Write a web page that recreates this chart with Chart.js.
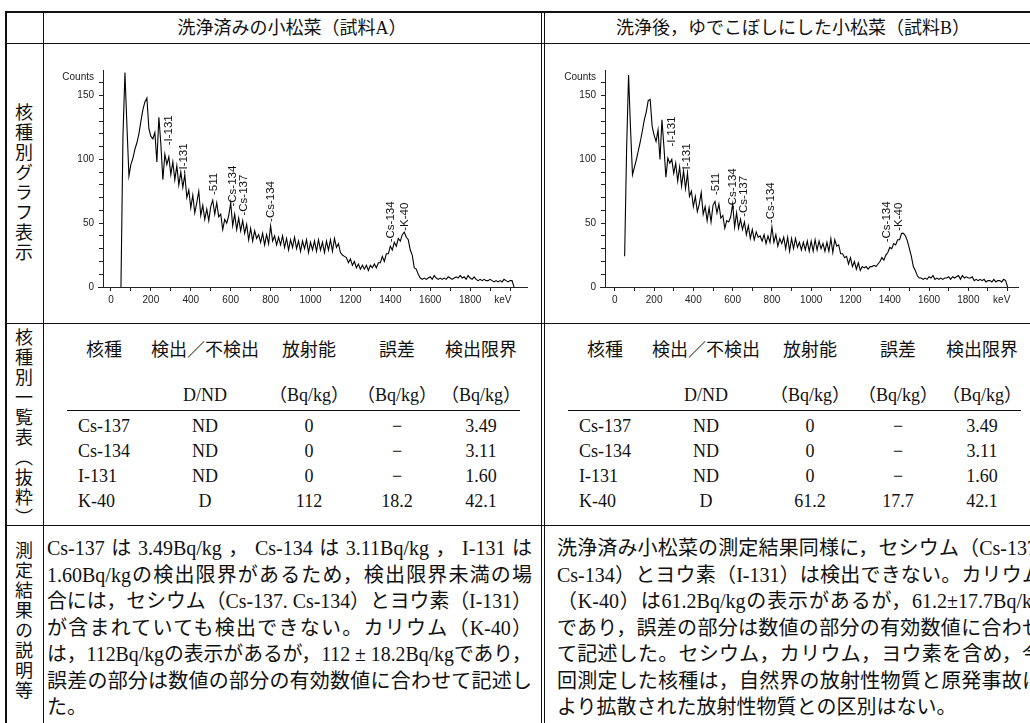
<!DOCTYPE html>
<html lang="ja">
<head>
<meta charset="utf-8">
<script src="https://cdn.jsdelivr.net/npm/chart.js@4.4.1/dist/chart.umd.min.js"></script>
<style>
  html, body { margin: 0; padding: 0; background: #fff; }
  #page { position: relative; width: 1030px; height: 723px; overflow: hidden; background: #fff;
          font-family: "Liberation Serif", "Noto Sans CJK JP", serif; color: #111; }
  .ln { position: absolute; background: #111; }
  .t { position: absolute; white-space: nowrap; line-height: 1; font-size: 18px; }
  .vlabel { position: absolute; writing-mode: vertical-rl; font-size: 18px; letter-spacing: 2px;
            font-family: "Noto Sans CJK JP", serif; line-height: 1; }
  .para { position: absolute; font-size: 20px; height: 26.5px; line-height: 26.5px; white-space: nowrap; }
  canvas { position: absolute; }
</style>
</head>
<body>
<div id="page">
  <canvas id="chartA" width="497" height="278" style="left:44px; top:44px; width:497px; height:278px"></canvas>
  <canvas id="chartB" width="495" height="278" style="left:546px; top:44px; width:495px; height:278px"></canvas>
</div>
<script>
// === 核種別グラフ: スペクトルデータ (keV / Counts) ===
const energies = [
  50, 60, 70, 80, 90, 100, 110, 120, 130, 140,
  150, 160, 170, 180, 190, 200, 210, 220, 230, 240,
  250, 260, 270, 280, 290, 300, 310, 320, 330, 340,
  350, 360, 370, 380, 390, 400, 410, 420, 430, 440,
  450, 460, 470, 480, 490, 500, 510, 520, 530, 540,
  550, 560, 570, 580, 590, 600, 610, 620, 630, 640,
  650, 660, 670, 680, 690, 700, 710, 720, 730, 740,
  750, 760, 770, 780, 790, 800, 810, 820, 830, 840,
  850, 860, 870, 880, 890, 900, 910, 920, 930, 940,
  950, 960, 970, 980, 990, 1000, 1010, 1020, 1030, 1040,
  1050, 1060, 1070, 1080, 1090, 1100, 1110, 1120, 1130, 1140,
  1150, 1160, 1170, 1180, 1190, 1200, 1210, 1220, 1230, 1240,
  1250, 1260, 1270, 1280, 1290, 1300, 1310, 1320, 1330, 1340,
  1350, 1360, 1370, 1380, 1390, 1400, 1410, 1420, 1430, 1440,
  1450, 1460, 1470, 1480, 1490, 1500, 1510, 1520, 1530, 1540,
  1550, 1560, 1570, 1580, 1590, 1600, 1610, 1620, 1630, 1640,
  1650, 1660, 1670, 1680, 1690, 1700, 1710, 1720, 1730, 1740,
  1750, 1760, 1770, 1780, 1790, 1800, 1810, 1820, 1830, 1840,
  1850, 1860, 1870, 1880, 1890, 1900, 1910, 1920, 1930, 1940,
  1950, 1960, 1970, 1980, 1990, 2000, 2010, 2020
];

// 試料A (洗浄済み)
const countsA = [
  0, 118, 168, 126, 87, 96, 101, 108, 113, 120,
  130, 139, 145, 148, 124, 118, 116, 121, 98, 133,
  112, 84, 104, 96, 102, 88, 98, 84, 95, 80,
  90, 78, 88, 70, 76, 62, 72, 58, 66, 75,
  56, 64, 53, 61, 52, 63, 68, 57, 66, 55,
  57, 45, 53, 50, 56, 66, 48, 57, 45, 54,
  44, 52, 42, 49, 37, 46, 36, 44, 38, 41,
  35, 42, 33, 41, 34, 48, 36, 40, 33, 39,
  33, 40, 31, 38, 29, 37, 31, 39, 30, 36,
  28, 36, 30, 37, 27, 35, 29, 36, 28, 37,
  29, 35, 27, 36, 29, 37, 28, 38, 31, 34,
  27, 25, 24, 23, 19, 22, 17, 20, 15, 18,
  14, 17, 14, 17, 13, 17, 15, 18, 15, 19,
  19, 24, 20, 26, 26, 32, 29, 35, 32, 38,
  36, 41, 43, 39, 37, 29, 25, 15, 14, 10,
  7, 6, 7, 6, 7, 8, 6, 9, 7, 6,
  7, 6, 7, 6, 8, 7, 6, 7, 8, 7,
  9, 7, 8, 6, 9, 7, 6, 8, 6, 5,
  6, 5, 6, 5, 5, 6, 5, 4, 5, 4,
  5, 4, 6, 5, 4, 5, 5, 0
];

// 試料B (ゆでこぼし)
const countsB = [
  24, 108, 166, 124, 88, 94, 100, 107, 114, 122,
  131, 137, 146, 147, 126, 119, 114, 123, 100, 131,
  110, 86, 101, 97, 100, 89, 97, 83, 94, 79,
  91, 77, 89, 71, 75, 63, 71, 59, 65, 74,
  57, 63, 52, 62, 51, 64, 67, 58, 65, 54,
  56, 46, 52, 51, 55, 65, 47, 58, 46, 53,
  45, 51, 41, 48, 38, 45, 37, 43, 39, 40,
  36, 41, 34, 40, 35, 47, 35, 41, 32, 38,
  34, 39, 30, 39, 28, 38, 30, 38, 31, 35,
  29, 35, 29, 36, 28, 36, 28, 37, 29, 36,
  30, 34, 28, 35, 28, 38, 27, 37, 32, 33,
  26, 26, 23, 24, 18, 23, 16, 20, 14, 19,
  13, 16, 15, 16, 14, 16, 16, 17, 16, 18,
  20, 23, 21, 25, 27, 31, 30, 34, 33, 37,
  37, 42, 42, 40, 36, 30, 24, 16, 13, 9,
  7, 7, 6, 7, 6, 8, 7, 9, 6, 7,
  6, 7, 6, 7, 7, 8, 6, 8, 7, 8,
  9, 6, 9, 7, 8, 7, 7, 8, 5, 6,
  5, 6, 5, 6, 4, 5, 5, 4, 6, 4,
  5, 5, 4, 6, 5, 0, null, null
];

const xTicks = [0, 100, 200, 300, 400, 500, 600, 700, 800, 900, 1000, 1100, 1200, 1300, 1400, 1500, 1600, 1700, 1800, 1900, 2000];
const xTickLabels = [0, 200, 400, 600, 800, 1000, 1200, 1400, 1600, 1800];
const yTicks = [0, 10, 20, 30, 40, 50, 60, 70, 80, 90, 100, 110, 120, 130, 140, 150, 160];
const yTickLabels = [0, 50, 100, 150];

// ピーク表示 (核種名, エネルギー, ラベル位置のカウント)
const peakNames = ['I-131', 'I-131', '511', 'Cs-134', 'Cs-137', 'Cs-134', 'Cs-134', 'K-40'];
const peakEnergiesA = [289, 367, 514, 612, 668, 801, 1402, 1474];
const peakLevelsA = [111, 89, 72, 63, 56, 51, 35, 44];
const peakEnergiesB = [289, 367, 513, 599, 659, 795, 1387, 1448];
const peakLevelsB = [110, 89, 72, 61, 55, 50, 35, 44];

// === 表のデータ ===
const headerA = '洗浄済みの小松菜（試料A）';
const headerB = '洗浄後，ゆでこぼしにした小松菜（試料B）';
const rowLabels = ['核種別グラフ表示', '核種別一覧表（抜粋）', '測定結果の説明等'];
const colHeads = ['核種', '検出／不検出', '放射能', '誤差', '検出限界'];
const colUnits = ['', 'D/ND', '（Bq/kg）', '（Bq/kg）', '（Bq/kg）'];
const nuclides = ['Cs-137', 'Cs-134', 'I-131', 'K-40'];
const detectA = ['ND', 'ND', 'ND', 'D'];
const activityA = ['0', '0', '0', '112'];
const errorA = ['−', '−', '−', '18.2'];
const limitA = ['3.49', '3.11', '1.60', '42.1'];
const detectB = ['ND', 'ND', 'ND', 'D'];
const activityB = ['0', '0', '0', '61.2'];
const errorB = ['−', '−', '−', '17.7'];
const limitB = ['3.49', '3.11', '1.60', '42.1'];

const textA = [
  'Cs-137は3.49Bq/kg，Cs-134は3.11Bq/kg，I-131は',
  '1.60Bq/kgの検出限界があるため，検出限界未満の場',
  '合には，セシウム（Cs-137. Cs-134）とヨウ素（I-131）',
  'が含まれていても検出できない。カリウム（K-40）',
  'は，112Bq/kgの表示があるが，112 ± 18.2Bq/kgであり，',
  '誤差の部分は数値の部分の有効数値に合わせて記述し',
  'た。'
];
const textB = [
  '洗浄済み小松菜の測定結果同様に，セシウム（Cs-137.',
  'Cs-134）とヨウ素（I-131）は検出できない。カリウム',
  '（K-40）は61.2Bq/kgの表示があるが，61.2±17.7Bq/kg',
  'であり，誤差の部分は数値の部分の有効数値に合わせ',
  'て記述した。セシウム，カリウム，ヨウ素を含め，今',
  '回測定した核種は，自然界の放射性物質と原発事故に',
  'より拡散された放射性物質との区別はない。'
];

const page = document.getElementById('page');

const addLine = (x, y, w, h) => {
  const d = document.createElement('div');
  d.className = 'ln';
  Object.assign(d.style, { left: x + 'px', top: y + 'px', width: w + 'px', height: h + 'px' });
  page.appendChild(d);
};

const addText = (text, x, y, align, size) => {
  const d = document.createElement('div');
  d.className = 't';
  d.textContent = text;
  d.style.left = x + 'px';
  d.style.top = y + 'px';
  if (size) d.style.fontSize = size + 'px';
  d.style.transform = align === 'left' ? 'translate(0,-50%)' : 'translate(-50%,-50%)';
  page.appendChild(d);
};

// 罫線
addLine(5, 11, 1040, 2);
addLine(5, 11, 2, 720);
addLine(6, 43, 1040, 1);
addLine(6, 323, 1040, 1);
addLine(6, 525, 1040, 1);
addLine(43, 12, 1, 720);
addLine(541, 12, 1, 720);
addLine(544, 12, 1, 720);

// 見出し
addText(headerA, 292, 28, 'center', 18);
addText(headerB, 793, 28, 'center', 18);

// 左列 (縦書き)
const vTops = [103, 328, 541];
rowLabels.forEach((s, i) => {
  const d = document.createElement('div');
  d.className = 'vlabel';
  d.textContent = s;
  d.style.left = '15px';
  d.style.top = vTops[i] + 'px';
  page.appendChild(d);
});

// 一覧表
const colX = [104, 205, 309, 397, 481];
const rowY = [426, 451, 476, 501];
const buildTable = (dx, detect, activity, error, limit) => {
  colHeads.forEach((s, i) => addText(s, colX[i] + dx, 350, 'center'));
  colUnits.forEach((s, i) => { if (s) addText(s, colX[i] + dx, 395, 'center'); });
  addLine(67 + dx, 410, 453, 1);
  nuclides.forEach((n, r) => {
    addText(n, 78 + dx, rowY[r], 'left');
    addText(detect[r], colX[1] + dx, rowY[r], 'center');
    addText(activity[r], colX[2] + dx, rowY[r], 'center');
    addText(error[r], colX[3] + dx, rowY[r], 'center');
    addText(limit[r], colX[4] + dx, rowY[r], 'center');
  });
};
buildTable(0, detectA, activityA, errorA, limitA);
buildTable(501, detectB, activityB, errorB, limitB);

// 説明文 (行ごとに両端揃え)
const buildPara = (lines, left, width) => {
  lines.forEach((s, i) => {
    const d = document.createElement('div');
    d.className = 'para';
    d.style.left = left + 'px';
    d.style.top = (535 + i * 26.5) + 'px';
    d.style.width = width + 'px';
    const sp = document.createElement('span');
    sp.textContent = s;
    sp.style.display = 'inline-block';
    d.appendChild(sp);
    page.appendChild(d);
    const natural = sp.offsetWidth;
    if (i === lines.length - 1) return;
    if (natural > width) {
      sp.style.transformOrigin = 'left center';
      sp.style.transform = `scaleX(${width / natural})`;
    } else {
      sp.style.display = 'block';
      sp.style.textAlign = 'justify';
      sp.style.textAlignLast = 'justify';
    }
  });
};
buildPara(textA, 47, 485);
buildPara(textB, 557, 485);

// === スペクトル描画 ===
const axisFont = { family: '"Liberation Sans", Arial, sans-serif', size: 10 };

const spectrumText = {
  id: 'spectrumText',
  afterDatasetsDraw(chart, args, opts) {
    const { ctx, chartArea, scales: { x, y } } = chart;
    ctx.save();
    ctx.fillStyle = '#222';
    ctx.font = '10px "Liberation Sans", Arial, sans-serif';
    ctx.textAlign = 'right';
    ctx.textBaseline = 'middle';
    ctx.fillText('Counts', chartArea.left - 9, chartArea.top + 7);
    ctx.textAlign = 'center';
    ctx.textBaseline = 'top';
    ctx.fillText('keV', x.getPixelForValue(opts.unitAt), chartArea.bottom + 8);

    // x軸の左端のはみ出し
    ctx.strokeStyle = '#222';
    ctx.lineWidth = 1;
    ctx.beginPath();
    ctx.moveTo(chartArea.left - 5, Math.round(chartArea.bottom) + 0.5);
    ctx.lineTo(chartArea.left, Math.round(chartArea.bottom) + 0.5);
    ctx.stroke();

    // 核種ラベル (縦書き)
    ctx.fillStyle = '#111';
    ctx.font = '11.5px "Liberation Sans", Arial, sans-serif';
    ctx.textAlign = 'left';
    ctx.textBaseline = 'middle';
    opts.names.forEach((n, i) => {
      ctx.save();
      ctx.translate(x.getPixelForValue(opts.energies[i]), y.getPixelForValue(opts.levels[i]));
      ctx.rotate(-Math.PI / 2);
      ctx.fillText('-' + n, 0, 0);
      ctx.restore();
    });
    ctx.restore();
  }
};

const renderSpectrum = (id, counts, xMin, xMax, rightPad, energiesPk, levelsPk, unitAt) => {
  const ctx = document.getElementById(id);
  return new Chart(ctx, {
    type: 'line',
    data: {
      datasets: [{
        data: energies.map((e, i) => ({ x: e, y: counts[i] })),
        borderColor: '#000',
        borderWidth: 1.1,
        pointRadius: 0,
        tension: 0,
        fill: false,
        spanGaps: false
      }]
    },
    options: {
      responsive: false,
      animation: false,
      events: [],
      layout: { padding: { top: 26, right: rightPad, left: 0, bottom: 0 } },
      plugins: {
        legend: { display: false },
        tooltip: { enabled: false },
        spectrumText: { names: peakNames, energies: energiesPk, levels: levelsPk, unitAt: unitAt }
      },
      scales: {
        x: {
          type: 'linear',
          min: xMin,
          max: xMax,
          afterBuildTicks: s => { s.ticks = xTicks.map(v => ({ value: v })); },
          afterFit: s => { s.height = 35; },
          grid: { drawOnChartArea: false, tickLength: 4, color: '#222' },
          border: { display: true, color: '#222' },
          ticks: {
            autoSkip: false, maxRotation: 0, padding: 3, color: '#222', font: axisFont,
            callback: v => xTickLabels.includes(v) ? String(v) : ''
          }
        },
        y: {
          min: 0,
          max: 170,
          afterBuildTicks: s => { s.ticks = yTicks.map(v => ({ value: v })); },
          afterFit: s => { s.width = 59; },
          grid: { drawOnChartArea: false, tickLength: 4, color: '#222' },
          border: { display: true, color: '#222' },
          ticks: {
            autoSkip: false, padding: 5, color: '#222', font: axisFont,
            callback: v => yTickLabels.includes(v) ? String(v) : ''
          }
        }
      }
    },
    plugins: [spectrumText]
  });
};

renderSpectrum('chartA', countsA, -40, 2085, 14, peakEnergiesA, peakLevelsA, 1964);
renderSpectrum('chartB', countsB, -50, 2053, 23, peakEnergiesB, peakLevelsB, 1970);
</script>
</body>
</html>
